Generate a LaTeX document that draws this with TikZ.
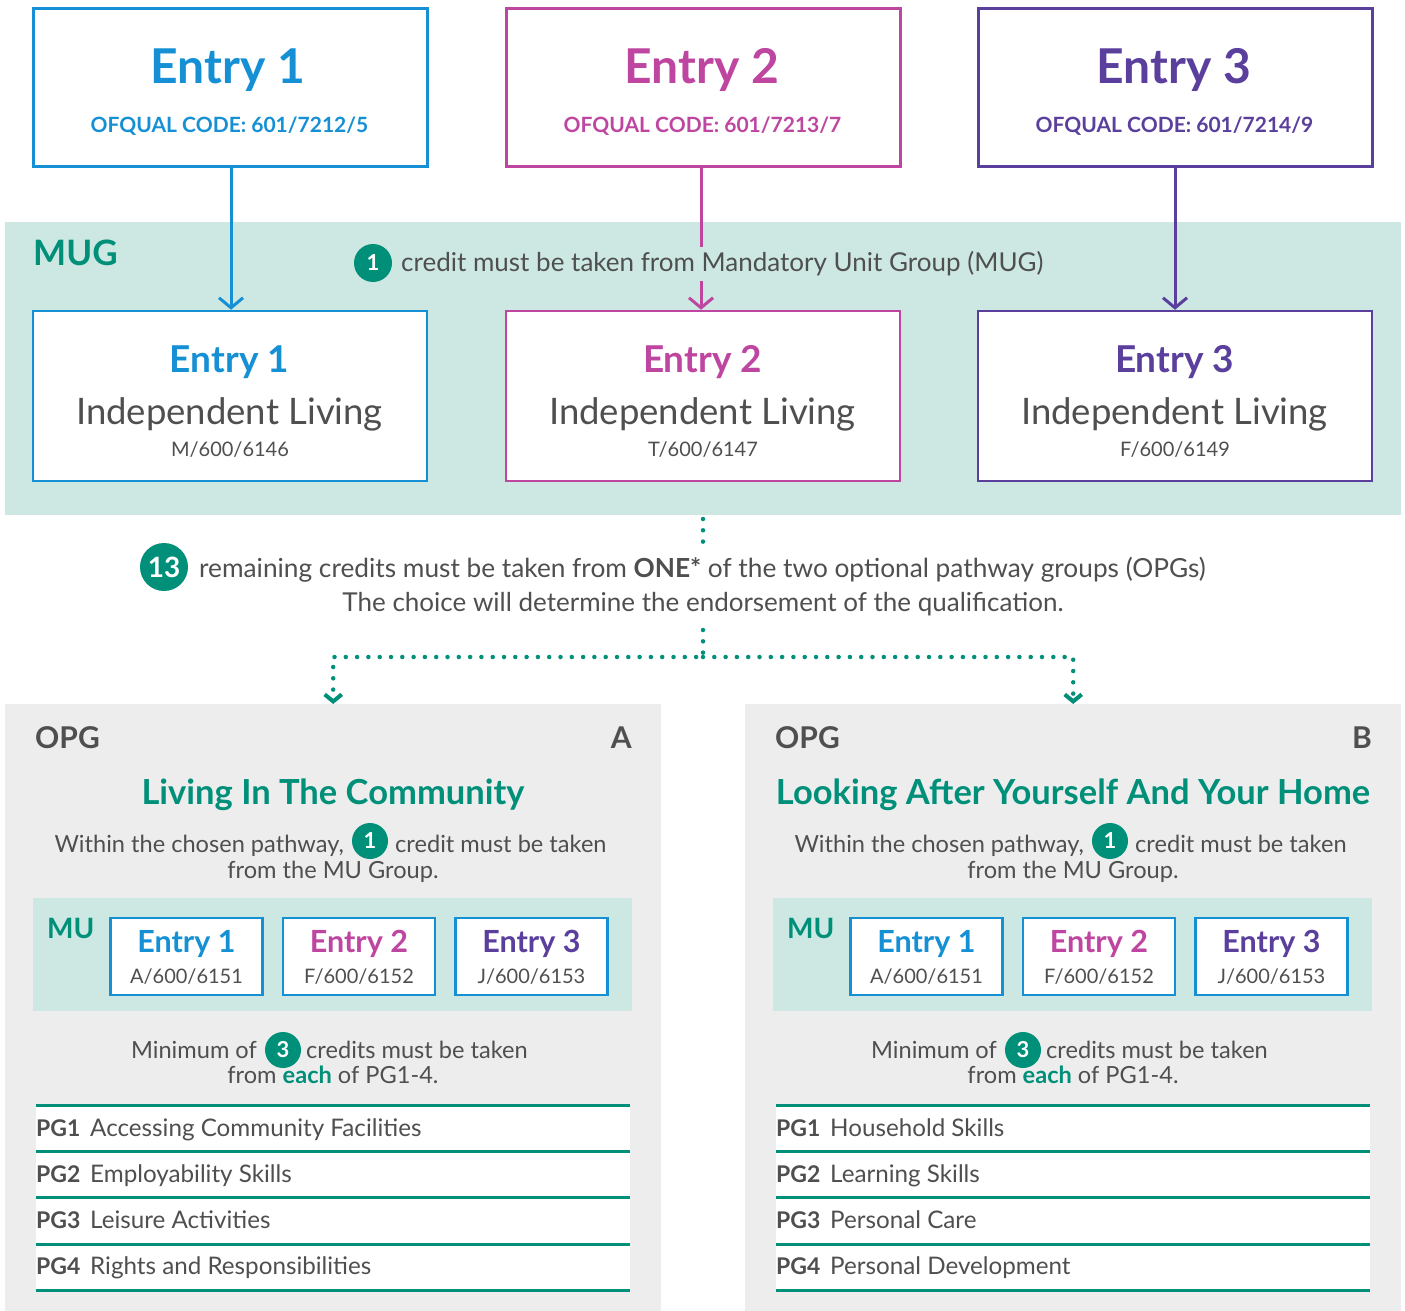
\documentclass[tikz,border=0pt]{standalone}
\usepackage{fontspec}
\setmainfont{Lato}
\usetikzlibrary{arrows.meta}
\definecolor{cblue}{HTML}{1690D4}
\definecolor{cmag}{HTML}{BF46A0}
\definecolor{cpur}{HTML}{5B3F9C}
\definecolor{cteal}{HTML}{00907A}
\definecolor{mugbg}{HTML}{CDE8E3}
\definecolor{opgbg}{HTML}{EDEDED}
\definecolor{tgray}{HTML}{4F4F4F}
\newcommand\fs[1]{\fontsize{#1}{#1}\selectfont}
\tikzset{
  topbox/.style={draw=#1, line width=3pt, fill=white, minimum width=394pt, minimum height=157pt, inner sep=0},
  lowbox/.style={draw=#1, line width=2.5pt, fill=white, minimum width=394pt, minimum height=170pt, inner sep=0},
  mubox/.style={draw=cblue, line width=2.5pt, fill=white, minimum width=152pt, minimum height=77pt, inner sep=0},
  txt/.style={inner sep=0, text=tgray},
  badge/.style={circle, fill=cteal, text=white, inner sep=0, minimum size=#1, font=\bfseries\fs{22}},
  badge/.default=38pt,
  arr/.style={line width=3pt, -{Straight Barb[length=10pt,width=24pt]}},
  dots/.style={cteal, line width=4.5pt, line cap=round, dash pattern=on 0pt off 11.3pt},
  dotarr/.style={dots, -{Straight Barb[length=7pt,width=17pt,line width=4pt]}},
  bg/.style={inner sep=0, anchor=north west},
}
\newcommand\opgpanel[7]{%
  \node[txt, anchor=base west, font=\bfseries\fs{30}] (opg#1) at (35,748) {OPG};
  \node[txt, anchor=base east, font=\bfseries\fs{30}] (let#1) at (632,748) {#1};
  \node[inner sep=0, anchor=base, font=\bfseries\fs{34.5}, text=cteal] (ti#1) at (333,804) {#2};
  \node[badge=36pt] (ba#1) at (370,841) {1};
  \node[txt, anchor=base east, font=\fs{23.6}] (wa#1) at (344,852.7) {Within the chosen pathway,};
  \node[txt, anchor=base west, font=\fs{23.6}] (wb#1) at (395,852.7) {credit must be taken};
  \node[txt, anchor=base, font=\fs{23.6}] (wc#1) at (333,878.3) {from the MU Group.};
  \node[bg, fill=mugbg, minimum width=599pt, minimum height=113pt] (mub#1) at (33,898) {};
  \node[inner sep=0, anchor=base west, font=\bfseries\fs{28}, text=cteal] (mu#1) at (47,938) {MU};
  \node[mubox] (m1#1) at (186.5,956.5) {};
  \node[mubox] (m2#1) at (359,956.5) {};
  \node[mubox] (m3#1) at (531.5,956.5) {};
  \node[inner sep=0, anchor=base, font=\bfseries\fs{30.5}, text=cblue] (m1t#1) at (186.5,952) {Entry 1};
  \node[inner sep=0, anchor=base, font=\bfseries\fs{30.5}, text=cmag] (m2t#1) at (359,952) {Entry 2};
  \node[inner sep=0, anchor=base, font=\bfseries\fs{30.5}, text=cpur] (m3t#1) at (531.5,952) {Entry 3};
  \node[txt, anchor=base, font=\fs{20}] (m1c#1) at (186.5,983) {A/600/6151};
  \node[txt, anchor=base, font=\fs{20}] (m2c#1) at (359,983) {F/600/6152};
  \node[txt, anchor=base, font=\fs{20}] (m3c#1) at (531.5,983) {J/600/6153};
  \node[badge=36pt] (bb#1) at (283,1050) {3};
  \node[txt, anchor=base east, font=\fs{23.6}] (na#1) at (257,1058) {Minimum of};
  \node[txt, anchor=base west, font=\fs{23.6}] (nb#1) at (306,1058) {credits must be taken};
  \node[txt, anchor=base, font=\fs{23.6}] (nc#1) at (333,1083.5) {from \textcolor{cteal}{\textbf{each}} of PG1-4.};
  \fill[white] (36,1105) rectangle (630,1290);
  \foreach \yy in {1105,1151,1197.5,1244,1290} \draw[cteal, line width=3pt] (36,\yy) -- (630,\yy);
  \node[txt, anchor=base west, font=\bfseries\fs{23}] (p1#1) at (36,1136) {PG1};
  \node[txt, anchor=base west, font=\bfseries\fs{23}] (p2#1) at (36,1182.5) {PG2};
  \node[txt, anchor=base west, font=\bfseries\fs{23}] (p3#1) at (36,1228.5) {PG3};
  \node[txt, anchor=base west, font=\bfseries\fs{23}] (p4#1) at (36,1274.5) {PG4};
  \node[txt, anchor=base west, font=\fs{24.2}] (q1#1) at (90,1136) {#3};
  \node[txt, anchor=base west, font=\fs{24.2}] (q2#1) at (90,1182.5) {#4};
  \node[txt, anchor=base west, font=\fs{24.2}] (q3#1) at (90,1228.5) {#5};
  \node[txt, anchor=base west, font=\fs{24.2}] (q4#1) at (90,1274.5) {#6};
}
\begin{document}
\begin{tikzpicture}[x=1pt,y=-1pt]
\useasboundingbox[fill=white] (0,0) rectangle (1405,1311);
% MUG band
\node[bg, fill=mugbg, minimum width=1396pt, minimum height=293pt] (mug) at (5,222) {};
\node[inner sep=0, anchor=base west, font=\bfseries\fs{35}, text=cteal] (mugl) at (33,265.7) {MUG};
% top boxes
\node[topbox=cblue] (e1) at (230,87.5) {};
\node[topbox=cmag] (e2) at (703,87.5) {};
\node[topbox=cpur] (e3) at (1175,87.5) {};
\node[inner sep=0, anchor=base, text=cblue, font=\bfseries\fs{48}] (e1t) at (228,84) {Entry 1};
\node[inner sep=0, anchor=base, text=cmag, font=\bfseries\fs{48}] (e2t) at (702,84) {Entry 2};
\node[inner sep=0, anchor=base, text=cpur, font=\bfseries\fs{48}] (e3t) at (1174,84) {Entry 3};
\node[inner sep=0, anchor=base, text=cblue, font=\bfseries\fs{21}] (e1c) at (229.5,132.7) {OFQUAL CODE: 601/7212/5};
\node[inner sep=0, anchor=base, text=cmag, font=\bfseries\fs{21}] (e2c) at (702.5,132.7) {OFQUAL CODE: 601/7213/7};
\node[inner sep=0, anchor=base, text=cpur, font=\bfseries\fs{21}] (e3c) at (1174.5,132.7) {OFQUAL CODE: 601/7214/9};
% lower boxes
\node[lowbox=cblue] (l1) at (230,396) {};
\node[lowbox=cmag] (l2) at (703,396) {};
\node[lowbox=cpur] (l3) at (1175,396) {};
\node[inner sep=0, anchor=base, text=cblue, font=\bfseries\fs{37}] (l1t) at (229.5,372) {Entry 1};
\node[inner sep=0, anchor=base, text=cmag, font=\bfseries\fs{37}] (l2t) at (702.5,372) {Entry 2};
\node[inner sep=0, anchor=base, text=cpur, font=\bfseries\fs{37}] (l3t) at (1174.5,372) {Entry 3};
\node[txt, anchor=base, font=\fs{36.5}] (l1i) at (229.5,424) {Independent Living};
\node[txt, anchor=base, font=\fs{36.5}] (l2i) at (702.5,424) {Independent Living};
\node[txt, anchor=base, font=\fs{36.5}] (l3i) at (1174.5,424) {Independent Living};
\node[txt, anchor=base, font=\fs{20}] (l1c) at (230,456) {M/600/6146};
\node[txt, anchor=base, font=\fs{20}] (l2c) at (703,456) {T/600/6147};
\node[txt, anchor=base, font=\fs{20}] (l3c) at (1175,456) {F/600/6149};
% arrows
\draw[arr, cblue] ([xshift=1pt]e1.south) -- ([xshift=1pt]l1.north);
\draw[arr, cmag] ([xshift=-2pt]e2.south) -- ([xshift=-2pt]l2.north);
\draw[arr, cpur] (e3.south) -- (l3.north);
\node[badge] (b0) at (373,263) {1};
\node[txt, anchor=base west, fill=mugbg, inner ysep=5pt, font=\fs{26}] (t0) at (401,271.7) {credit must be taken from Mandatory Unit Group (MUG)};
% 13 line
\node[badge=48pt, font=\bfseries\fs{28}] (b13) at (164,567) {13};
\node[txt, anchor=base west, font=\fs{26.25}] (t13) at (199,577) {remaining credits must be taken from \textbf{ONE*} of the two optional pathway groups (OPGs)};
\node[txt, anchor=base, font=\fs{26}] (t13b) at (703,611) {The choice will determine the endorsement of the qualification.};
% panels
\node[bg, fill=opgbg, minimum width=656pt, minimum height=607pt] (opga) at (5,704) {};
\node[bg, fill=opgbg, minimum width=656pt, minimum height=607pt] (opgb) at (745,704) {};
% dotted connectors
\coordinate (d0) at (703,519);
\coordinate (d1) at (703,545);
\coordinate (d2) at (703,630);
\coordinate (dj) at (703,657);
\draw[dots] (d0) -- (d1);
\draw[dotarr] (d2) -- (dj) -| (opga.north);
\draw[dotarr] (dj) -| (opgb.north);
% panel contents
\opgpanel{A}{Living In The Community}{Accessing Community Facilities}{Employability Skills}{Leisure Activities}{Rights and Responsibilities}{}
\begin{scope}[xshift=740pt]
\opgpanel{B}{Looking After Yourself And Your Home}{Household Skills}{Learning Skills}{Personal Care}{Personal Development}{}
\end{scope}
\end{tikzpicture}
\end{document}
